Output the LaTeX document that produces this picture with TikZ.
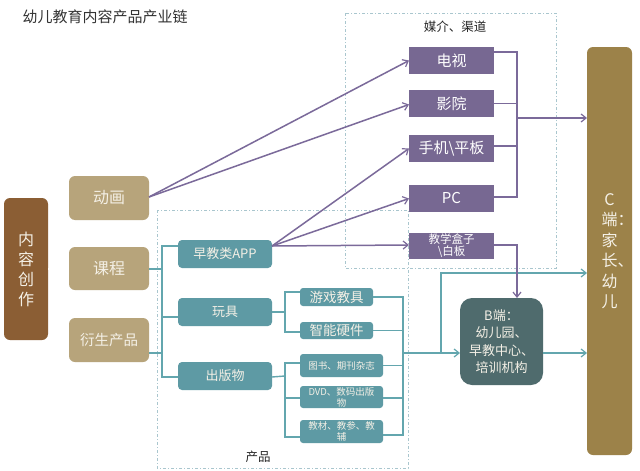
\documentclass[tikz,border=0pt]{standalone}
\usepackage{fontspec}
\setmainfont{Noto Sans CJK SC}
\usetikzlibrary{arrows.meta}
\definecolor{cbrown}{HTML}{8B5E34}
\definecolor{ctan}{HTML}{B7A47B}
\definecolor{cpurple}{HTML}{776892}
\definecolor{cteal}{HTML}{5E9AA4}
\definecolor{cbdark}{HTML}{4F6B6D}
\definecolor{colive}{HTML}{9C8249}
\definecolor{lteal}{HTML}{63A6AE}
\definecolor{lpurple}{HTML}{7B6A9A}
\definecolor{ltan}{HTML}{D6C59B}
\definecolor{ldash}{HTML}{A9C6CE}
\definecolor{ctext}{HTML}{F4F0E6}
\newcommand\myfs[2]{\fontsize{#1}{#2}\selectfont}
\begin{document}
\begin{tikzpicture}[x=1pt,y=-1pt,
  boxbase/.style={inner sep=0pt, outer sep=0pt, align=center, text=ctext},
  brownbox/.style={boxbase, fill=cbrown, rounded corners=6pt},
  tanbox/.style={boxbase, fill=ctan, rounded corners=6pt, minimum width=80pt, minimum height=44pt, font=\myfs{16}{20}},
  mediabox/.style={boxbase, fill=cpurple, text=white, minimum width=85pt, minimum height=27pt, font=\myfs{15}{18}},
  prodbox/.style={boxbase, fill=cteal, rounded corners=4pt, minimum width=94pt, minimum height=28pt, font=\myfs{13}{16}},
  subbox/.style={boxbase, fill=cteal, rounded corners=3pt, minimum width=73pt, minimum height=18pt, font=\myfs{13.5}{16}},
  pubbox/.style={boxbase, fill=cteal, rounded corners=3pt, minimum width=83pt, minimum height=23pt, font=\myfs{9.5}{11}},
  tanline/.style={draw=ltan, double=white, double distance=1.2pt, line width=0.6pt},
  tealline/.style={draw=lteal, line width=1.4pt},
  purpline/.style={draw=lpurple, line width=1.5pt},
  arr/.style={-{Straight Barb[length=5pt,width=8pt,line width=1.2pt]}},
  dashbox/.style={draw=ldash, line width=0.8pt, dash pattern=on 3pt off 2pt on 1pt off 2pt},
  grouplabel/.style={font=\myfs{12.5}{15}, text=black!85}
]
\useasboundingbox (0,0) rectangle (640,471);
\fill[white] (0,0) rectangle (640,471);

% title
\node[anchor=west, font=\myfs{15}{18}, text=black!80] (title) at (19,17) {幼儿教育内容产品产业链};

% group frames
\draw[dashbox] (157,210) rectangle (408,468);
\node[grouplabel] (lprod) at (258,457) {产品};
\draw[dashbox] (345,13) rectangle (556,268);
\node[grouplabel] (lmed) at (455,27) {媒介、渠道};

% left
\node[brownbox, minimum width=44pt, minimum height=142pt, font=\myfs{16}{20}] (ncz) at (26,269) {内\\容\\创\\作};
\node[tanbox] (dh) at (109,198) {动画};
\node[tanbox, minimum height=43pt] (kc) at (109,268.5) {课程};
\node[tanbox, font=\myfs{14.5}{18}] (ys) at (109,340) {衍生产品};

% media
\node[mediabox] (tv) at (451.5,60.5) {电视};
\node[mediabox] (yy) at (451.5,103.5) {影院};
\node[mediabox] (sj) at (451.5,148.5) {手机\textbackslash 平板};
\node[mediabox] (pc) at (451.5,198.5) {PC};
\node[mediabox, minimum height=26pt, font=\myfs{11.5}{12}] (jx) at (451.5,246) {教学盒子\\\textbackslash 白板};

% products
\node[prodbox] (app) at (225,254) {早教类APP};
\node[prodbox] (wj) at (225,312) {玩具};
\node[prodbox] (cb) at (225,376) {出版物};
\node[subbox] (yx) at (336.5,297) {游戏教具};
\node[subbox, minimum height=17pt] (zn) at (336.5,330.5) {智能硬件};
\node[pubbox] (ts) at (341.5,365.5) {图书、期刊杂志};
\node[pubbox, minimum height=22pt] (dvd) at (341.5,397) {DVD、数码出版\\物};
\node[pubbox] (jc) at (341.5,431.5) {教材、教参、教\\辅};

% B and C
\node[boxbase, fill=cbdark, rounded corners=12pt, minimum width=83pt, minimum height=87pt, font=\myfs{13}{17.5}] (B) at (501.5,341.5) {B端：\\幼儿园、\\早教中心、\\培训机构};
\node[boxbase, fill=colive, rounded corners=6pt, minimum width=45pt, minimum height=408pt, font=\myfs{16}{20.5}] (C) at (609.5,251) {C\\端\rlap{：}\\家\\长\rlap{、}\\幼\\儿};

% tan connectors
\coordinate (tj) at (60,269);
\draw[tanline] (ncz.east) -- (tj);
\draw[tanline] ([yshift=7pt]dh.west) -| (tj) |- ([yshift=-13pt]ys.west);
\draw[tanline] (tj) -- (kc.west |- tj);

% teal connectors (content -> products)
\coordinate (pj) at (162,269);
\coordinate (pk) at (162,353);
\draw[tealline] (kc.east |- pj) -- (pj);
\draw[tealline] ([yshift=-13pt]ys.east) -- (pk);
\draw[tealline] ([yshift=8pt]app.west) -| (pj) |- ([yshift=-1pt]cb.west);
\draw[tealline] (pj) |- ([yshift=-5pt]wj.west);

% toys
\coordinate (wjn) at (285,312);
\draw[tealline] (wj.east) -- (wjn);
\draw[tealline] ([yshift=5pt]yx.west) -| (wjn) |- ([yshift=-1.5pt]zn.west);
% publications
\coordinate (cbn) at (285,398);
\draw[tealline] ([yshift=-1pt]cb.east) -- (cb.east -| cbn);
\draw[tealline] ([yshift=2.5pt]ts.west) -| (cbn) |- ([yshift=-5.5pt]jc.west);
\draw[tealline] (cbn) -- ([yshift=-1pt]dvd.west);

% right side collector
\coordinate (rj) at (403,353);
\draw[tealline] (yx.east) -| (rj) |- ([yshift=-3.5pt]jc.east);
\draw[tealline] (zn.east) -- (zn.east -| rj);
\draw[tealline] (ts.east) -- (ts.east -| rj);
\draw[tealline] ([yshift=-1pt]dvd.east) -- ([yshift=-1pt]dvd.east -| rj);
\draw[tealline, arr] (rj) -- ([yshift=-11.5pt]B.west);
\coordinate (bj) at (441,353);
\draw[tealline, arr] (bj) |- ([yshift=-22pt]C.west);
\draw[tealline, arr] ([yshift=-11.5pt]B.east) -- ([yshift=-102pt]C.west);

% purple arrows
\draw[purpline, arr] ([yshift=1pt]dh.east) -- (tv.west);
\draw[purpline, arr] ([yshift=1pt]dh.east) -- ([yshift=-1pt]yy.west);
\draw[purpline, arr] ([yshift=8pt]app.east) -- (sj.west);
\draw[purpline, arr] ([yshift=8pt]app.east) -- (pc.west);
\draw[purpline, arr] ([yshift=8pt]app.east) -- ([yshift=1pt]jx.west);

% media collector
\coordinate (mj) at (517,118);
\draw[purpline] ([yshift=8.5pt]tv.east) -| (mj) |- ([yshift=1.5pt]pc.east);
\draw[purpline] (yy.east) -- (yy.east -| mj);
\draw[purpline] ([yshift=2.5pt]sj.east) -- ([yshift=2.5pt]sj.east -| mj);
\draw[purpline, arr] (mj) -- ([yshift=133pt]C.west);
\draw[purpline, arr] ([yshift=1pt]jx.east) -| (B.north -| mj);
\end{tikzpicture}
\end{document}
